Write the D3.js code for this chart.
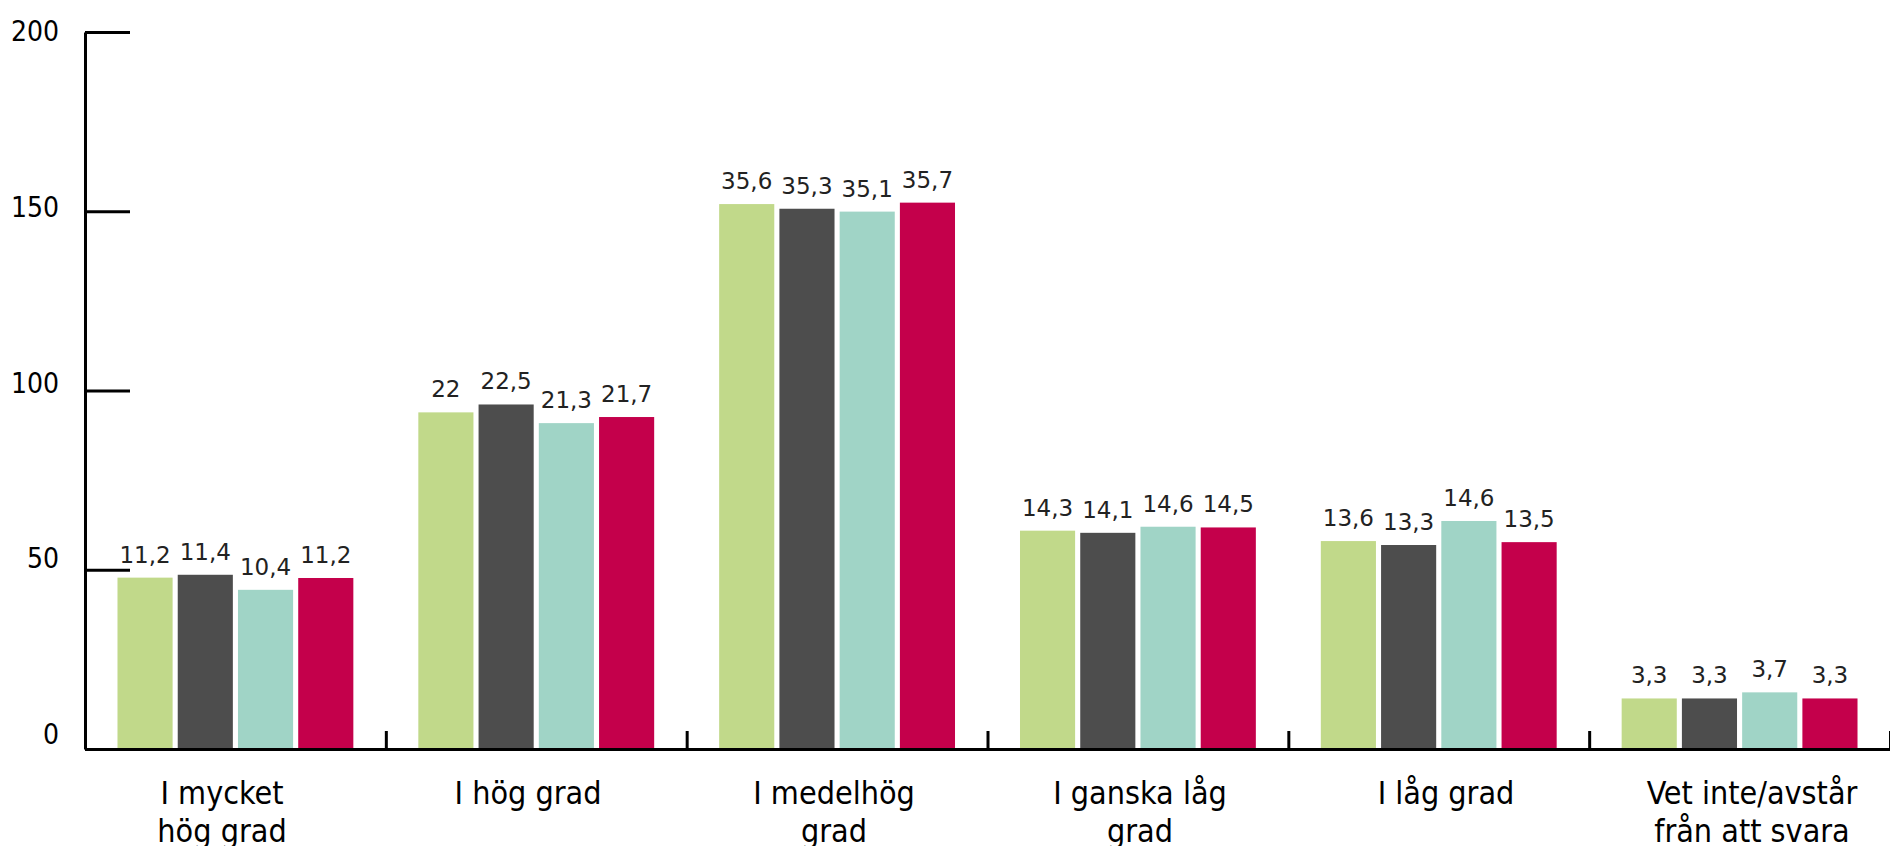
<!DOCTYPE html>
<html>
<head>
<meta charset="utf-8">
<script src="https://cdn.jsdelivr.net/npm/d3@7"></script>
<style>
  body { margin: 0; background: #fff; }
  svg { display: block; }
</style>
</head>
<body>
<div id="chart"></div>
<script>
const categories = [
    ['I mycket', 'hög grad'],
    ['I hög grad'],
    ['I medelhög', 'grad'],
    ['I ganska låg', 'grad'],
    ['I låg grad'],
    ['Vet inte/avstår', 'från att svara']
];
const seriesNames = ['s1', 's2', 's3', 's4'];
const colors = ['#c1d98a', '#4d4d4d', '#a0d4c6', '#c4004b'];

// bar heights as read against the 0-200 axis
const barValues = [
    [47.8, 48.6, 44.4, 47.7],
    [93.9, 96.1, 90.9, 92.6],
    [152.0, 150.7, 149.9, 152.4],
    [60.9, 60.3, 62.0, 61.8],
    [58.0, 56.9, 63.6, 57.7],
    [14.1, 14.1, 15.8, 14.1]
];
// printed labels above the bars
const barLabels = [
    ['11,2', '11,4', '10,4', '11,2'],
    ['22', '22,5', '21,3', '21,7'],
    ['35,6', '35,3', '35,1', '35,7'],
    ['14,3', '14,1', '14,6', '14,5'],
    ['13,6', '13,3', '14,6', '13,5'],
    ['3,3', '3,3', '3,7', '3,3']
];
const yTicks = [0, 50, 100, 150, 200];

const W = 1890, H = 846;
const mLeft = 85, mRight = 1890, mTop = 32, mBottom = 749;

const svg = d3.select('#chart')
    .append('svg')
    .attr('width', W)
    .attr('height', H);

const x0 = d3.scaleBand()
    .domain(d3.range(categories.length))
    .range([mLeft, mRight])
    .paddingInner(0.216)
    .paddingOuter(0.108);
const x1 = d3.scaleBand()
    .domain(seriesNames)
    .range([0, x0.bandwidth()])
    .paddingInner(0.085);
const y = d3.scaleLinear().domain([0, 200]).range([mBottom, mTop]);
// tick labels sit slightly off the tick marks in the original
const yLab = d3.scaleLinear().domain([0, 200]).range([734, 31]);
const xLab = d3.scalePoint().domain(d3.range(categories.length)).range([222, 1752]);

// bars
const groups = svg.append('g').selectAll('g')
    .data(barValues)
    .enter().append('g')
    .attr('transform', (d, i) => `translate(${x0(i)},0)`);

groups.selectAll('rect')
    .data(d => d.map((v, j) => ({ v, j })))
    .enter().append('rect')
    .attr('x', d => x1(seriesNames[d.j]))
    .attr('y', d => y(d.v))
    .attr('width', x1.bandwidth())
    .attr('height', d => y(0) - y(d.v))
    .attr('fill', d => colors[d.j]);

groups.each(function (d, i) {
    d3.select(this).selectAll('text')
        .data(d.map((v, j) => ({ v, j, t: barLabels[i][j] })))
        .enter().append('text')
        .attr('x', e => x1(seriesNames[e.j]) + x1.bandwidth() / 2)
        .attr('y', e => y(e.v) - 15)
        .attr('text-anchor', 'middle')
        .style('font-family', 'DejaVu Sans')
        .style('font-size', '23px')
        .style('fill', '#222')
        .text(e => e.t);
});

// y axis: ticks point inward
const yAxis = d3.axisRight(y)
    .tickValues(yTicks)
    .tickSize(45)
    .tickSizeOuter(0)
    .tickFormat('');
const gy = svg.append('g')
    .attr('transform', `translate(${mLeft},0)`)
    .call(yAxis);
gy.select('.domain').attr('stroke', '#000').attr('stroke-width', 3);
gy.selectAll('.tick line').attr('stroke', '#000').attr('stroke-width', 3);

svg.append('g').selectAll('text')
    .data(yTicks)
    .enter().append('text')
    .attr('x', 59)
    .attr('y', d => yLab(d))
    .attr('dy', '0.36em')
    .attr('text-anchor', 'end')
    .style('font-family', 'DejaVu Sans Condensed')
    .style('font-size', '28px')
    .style('fill', '#000')
    .text(d => d);

// x axis with short upward ticks at group boundaries
const xb = d3.scaleLinear().domain([0, categories.length]).range([mLeft, mRight]);
const xAxis = d3.axisTop(xb)
    .tickValues(d3.range(1, categories.length + 1))
    .tickSize(18)
    .tickSizeOuter(0)
    .tickFormat('');
const gx = svg.append('g')
    .attr('transform', `translate(0,${mBottom})`)
    .call(xAxis);
gx.select('.domain').attr('stroke', '#000').attr('stroke-width', 3);
gx.selectAll('.tick line').attr('stroke', '#000').attr('stroke-width', 3);

// category labels
const cat = svg.append('g').selectAll('text')
    .data(categories)
    .enter().append('text')
    .attr('x', (d, i) => xLab(i))
    .attr('y', 804)
    .attr('text-anchor', 'middle')
    .style('font-family', 'DejaVu Sans Condensed')
    .style('font-size', '32px')
    .style('fill', '#000');
cat.selectAll('tspan')
    .data(d => d)
    .enter().append('tspan')
    .attr('x', function () { return this.parentNode.getAttribute('x'); })
    .attr('dy', (d, k) => k === 0 ? 0 : 38)
    .text(d => d);
</script>
</body>
</html>
